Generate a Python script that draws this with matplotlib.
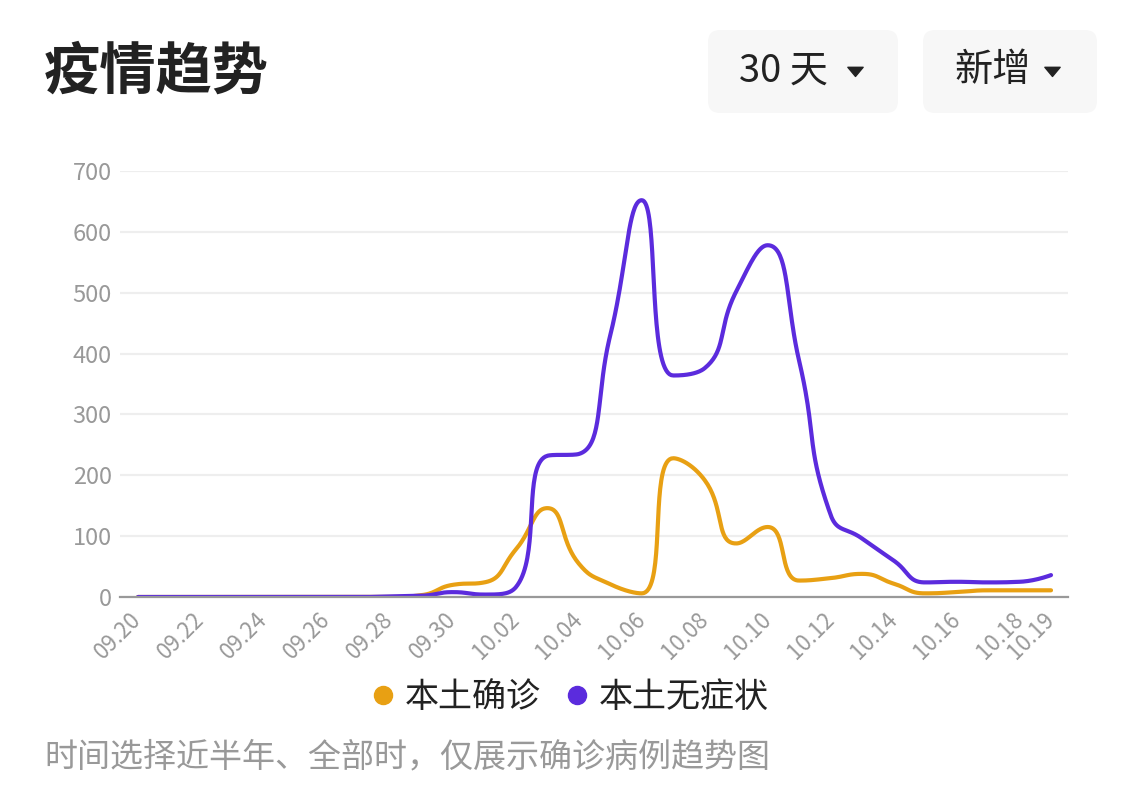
import numpy as np
import matplotlib
matplotlib.use("Agg")
import matplotlib.pyplot as plt
from matplotlib.patches import FancyBboxPatch
from matplotlib.lines import Line2D
from matplotlib.path import Path

plt.rcParams['font.family'] = ['Noto Sans CJK SC', 'DejaVu Sans']

# ---------------- data ----------------
dates = ["09.20", "09.21", "09.22", "09.23", "09.24", "09.25", "09.26", "09.27",
         "09.28", "09.29", "09.30", "10.01", "10.02", "10.03", "10.04", "10.05",
         "10.06", "10.07", "10.08", "10.09", "10.10", "10.11", "10.12", "10.13",
         "10.14", "10.15", "10.16", "10.17", "10.18", "10.19"]
confirmed = [0, 0, 0, 0, 0, 0, 0, 0, 0, 3, 20, 24, 78, 146, 55, 21,
             6, 228, 192, 88, 115, 27, 31, 38, 22, 6, 8, 11, 11, 11]
asymptomatic = [0, 0, 0, 0, 0, 0, 0, 0, 1, 2, 8, 4, 16, 232, 235, 430,
                652, 364, 376, 502, 578, 388, 135, 96, 60, 24, 25, 24, 25, 36]
series_names = ["本土确诊", "本土无症状"]
series_colors = ["#E8A013", "#5B2BDD"]
yticks = [0, 100, 200, 300, 400, 500, 600, 700]
title = "疫情趋势"
btn_labels = ["30 天", "新增"]
footer = "时间选择近半年、全部时，仅展示确诊病例趋势图"

W, H = 1141, 790
fig = plt.figure(figsize=(W / 100, H / 100), dpi=100)
fig.patch.set_facecolor("white")

# chart axes (pixel box 120..1068 x, 171..597 y)
ax_l, ax_r, ax_t, ax_b = 120, 1068, 171, 597
ax = fig.add_axes([ax_l / W, 1 - ax_b / H, (ax_r - ax_l) / W, (ax_b - ax_t) / H])

n = len(dates)
xs = np.arange(n)
px_per_day = 31.5
xlim = (-18 / px_per_day, (n - 1) + 17 / px_per_day)
ylim = (0, 700)
px_per_val = (ax_b - ax_t) / (ylim[1] - ylim[0])


def echarts_smooth(x, y, sx, sy, smooth=0.5, samples=40):
    """Bezier smoothing like ECharts (with constraints), computed in pixel-scaled space."""
    P = np.column_stack([np.asarray(x, float) * sx, np.asarray(y, float) * sy])
    m = len(P)
    cps = []
    for k in range(m):
        px, py = P[k]
        if k == 0 or k == m - 1:
            cps.append(((px, py), (px, py)))
            continue
        prX, prY = P[k - 1]
        nxX, nxY = P[k + 1]
        vx, vy = nxX - prX, nxY - prY
        lp = max(np.hypot(px - prX, py - prY), 1e-9)
        ln = max(np.hypot(nxX - px, nxY - py), 1e-9)
        r = ln / (ln + lp)
        c1x = px + vx * smooth * r
        c1y = py + vy * smooth * r
        c1x = min(c1x, max(nxX, px)); c1y = min(c1y, max(nxY, py))
        c1x = max(c1x, min(nxX, px)); c1y = max(c1y, min(nxY, py))
        vx, vy = c1x - px, c1y - py
        c0x = px - vx * lp / ln
        c0y = py - vy * lp / ln
        c0x = min(c0x, max(prX, px)); c0y = min(c0y, max(prY, py))
        c0x = max(c0x, min(prX, px)); c0y = max(c0y, min(prY, py))
        vx, vy = px - c0x, py - c0y
        c1x = px + vx * ln / lp
        c1y = py + vy * ln / lp
        cps.append(((c0x, c0y), (c1x, c1y)))
    t = np.linspace(0, 1, samples)[:, None]
    out = []
    for k in range(m - 1):
        p0 = P[k]
        p1 = np.array(cps[k][1])
        p2 = np.array(cps[k + 1][0])
        p3 = P[k + 1]
        seg = ((1 - t) ** 3) * p0 + 3 * ((1 - t) ** 2) * t * p1 + 3 * (1 - t) * t ** 2 * p2 + t ** 3 * p3
        out.append(seg if k == 0 else seg[1:])
    out = np.vstack(out)
    return out[:, 0] / sx, out[:, 1] / sy


for vals, color, name in zip([confirmed, asymptomatic], series_colors, series_names):
    cx, cy = echarts_smooth(xs, vals, px_per_day, px_per_val)
    ax.plot(cx, cy, color=color, lw=3.0, solid_capstyle='round', zorder=3, label=name)

ax.set_xlim(*xlim)
ax.set_ylim(*ylim)
ax.set_yticks(yticks)
ax.set_yticklabels([str(v) for v in yticks])
tick_idx = list(range(0, n, 2)) + [n - 1]
ax.set_xticks(tick_idx)
ax.set_xticklabels([dates[i] for i in tick_idx], rotation=45, ha='right', va='center',
                   rotation_mode='anchor')
ax.tick_params(axis='both', length=0, colors="#999999")
ax.tick_params(axis='y', labelsize=17, pad=6)
ax.tick_params(axis='x', labelsize=16, pad=14)
ax.grid(axis='y', color="#eeeeee", lw=1.6, zorder=0)
for s in ["top", "right", "left"]:
    ax.spines[s].set_visible(False)
ax.spines["bottom"].set_color("#999999")
ax.spines["bottom"].set_linewidth(1.6)
ax.spines["bottom"].set_zorder(4)

# overlay for page decorations (pixel coordinates)
bg = fig.add_axes([0, 0, 1, 1], zorder=-1)
bg.set_xlim(0, W)
bg.set_ylim(H, 0)
bg.axis('off')

bg.text(44, 72, title, fontsize=40.5, fontweight='bold', color="#222222", ha='left', va='center')

tri = Path([(-1.0, 0.55), (1.0, 0.55), (0.0, -0.65), (-1.0, 0.55)], closed=True)
btn_boxes = [(708, 30, 190, 83), (923, 30, 174, 83)]
btn_text_x = [739, 954]
tri_x = [855, 1052]
for (bx, by, bw, bh), lab, txx, trx in zip(btn_boxes, btn_labels, btn_text_x, tri_x):
    bg.add_patch(FancyBboxPatch((bx, by), bw, bh, boxstyle="round,pad=0,rounding_size=12",
                                facecolor="#f7f7f7", edgecolor="none"))
    bg.text(txx, 71, lab, fontsize=27.5, color="#222222", ha='left', va='center')
    bg.plot([trx], [71], marker=tri, color="#222222", markersize=11, linestyle='none')

handles = [Line2D([], [], marker='o', linestyle='none', color=c, markersize=13)
           for c in series_colors]
fig.legend(handles, series_names, loc='center', bbox_to_anchor=(569 / W, 1 - 697 / H),
           ncol=2, frameon=False, fontsize=24.5, handlelength=0.8, handletextpad=0.25,
           columnspacing=0.65, labelcolor="#222222")

bg.text(44, 757, footer, fontsize=23.8, color="#999999", ha='left', va='center')

fig.savefig("out.png", dpi=100)
